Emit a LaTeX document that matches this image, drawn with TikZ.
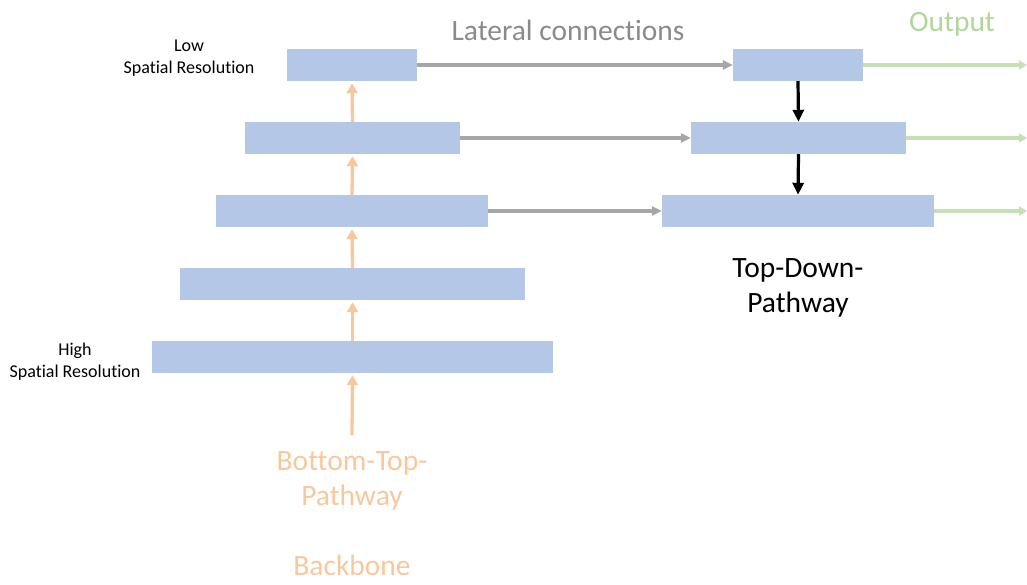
\documentclass[tikz,border=0pt]{standalone}
\usepackage{fontspec}
\setmainfont{Carlito}[Ligatures=NoCommon]
\usetikzlibrary{arrows.meta}
\definecolor{boxblue}{HTML}{B4C7E7}
\definecolor{uporange}{HTML}{F8C89C}
\definecolor{latgray}{HTML}{A6A6A6}
\definecolor{latgraytext}{HTML}{8A8A8A}
\definecolor{outgreen}{HTML}{C5E0B4}
\definecolor{outgreentext}{HTML}{B0D69A}
% keep "t" and "i" as separate glyphs
\newcommand{\spatialword}{Spat\kern0pt ial}
\tikzset{
  level/.style={fill=boxblue, draw=none, inner sep=0pt, minimum height=32pt},
  bigtext/.style={font=\fontsize{29.5}{35}\selectfont, align=center, inner sep=0pt, anchor=base},
  smalltext/.style={font=\fontsize{18}{22}\selectfont, align=center, inner sep=0pt, anchor=base},
  uparrow/.style={draw=uporange, line width=3.3pt, -{Triangle[width=11pt,length=10pt]}},
  latarrow/.style={draw=latgray, line width=3.2pt, -{Triangle[width=9pt,length=10pt]}},
  downarrow/.style={draw=black, line width=3.2pt, -{Triangle[width=11pt,length=12pt]}},
  outarrow/.style={draw=outgreen, line width=3.2pt, -{Triangle[width=9pt,length=8pt]}}
}
\begin{document}
\begin{tikzpicture}[x=1pt,y=-1pt]
\useasboundingbox (0,0) rectangle (1027,584);

% bottom-up pyramid
\node[level, minimum width=130pt] (b1) at (352,65) {};
\node[level, minimum width=215pt] (b2) at (352.5,138) {};
\node[level, minimum width=272pt] (b3) at (352,211) {};
\node[level, minimum width=345pt] (b4) at (352.5,284) {};
\node[level, minimum width=401pt] (b5) at (352.5,357) {};

% top-down pyramid
\node[level, minimum width=130pt] (t1) at (798,65) {};
\node[level, minimum width=215pt] (t2) at (798.5,138) {};
\node[level, minimum width=272pt] (t3) at (798,211) {};

% input and output ends
\coordinate (in) at (352,435);
\coordinate (o1) at (1027,65);
\coordinate (o2) at (1027,138);
\coordinate (o3) at (1027,211);

% bottom-up arrows
\draw[uparrow] (in) -- ([yshift=-2pt]b5.south);
\draw[uparrow] (b5.north) -- ([yshift=-2pt]b4.south);
\draw[uparrow] (b4.north) -- ([yshift=-2pt]b3.south);
\draw[uparrow] (b3.north) -- ([yshift=-2pt]b2.south);
\draw[uparrow] (b2.north) -- ([yshift=-2pt]b1.south);

% lateral connections
\draw[latarrow] (b1.east) -- (t1.west);
\draw[latarrow] (b2.east) -- (t2.west);
\draw[latarrow] (b3.east) -- (t3.west);

% top-down arrows
\draw[downarrow] (t1.south) -- (t2.north);
\draw[downarrow] (t2.south) -- (t3.north);

% outputs
\draw[outarrow] (t1.east) -- (o1);
\draw[outarrow] (t2.east) -- (o2);
\draw[outarrow] (t3.east) -- (o3);

% labels (multi-line nodes are placed by the baseline of their last line)
\node[bigtext, text=latgraytext] (lat) at (568,40) {Lateral connections};
\node[bigtext, text=outgreentext] (out) at (952,31) {Output};
\node[smalltext] (low) at (189,73) {Low\\\spatialword{} Resolution};
\node[smalltext] (high) at (75,377) {High\\\spatialword{} Resolution};
\node[bigtext] (td) at (798,312) {Top-Down-\\Pathway};
\node[bigtext, text=uporange] (bt) at (352,505) {Bottom-Top-\\Pathway};
\node[bigtext, text=uporange] (bb) at (352,575) {Backbone};
\end{tikzpicture}
\end{document}
